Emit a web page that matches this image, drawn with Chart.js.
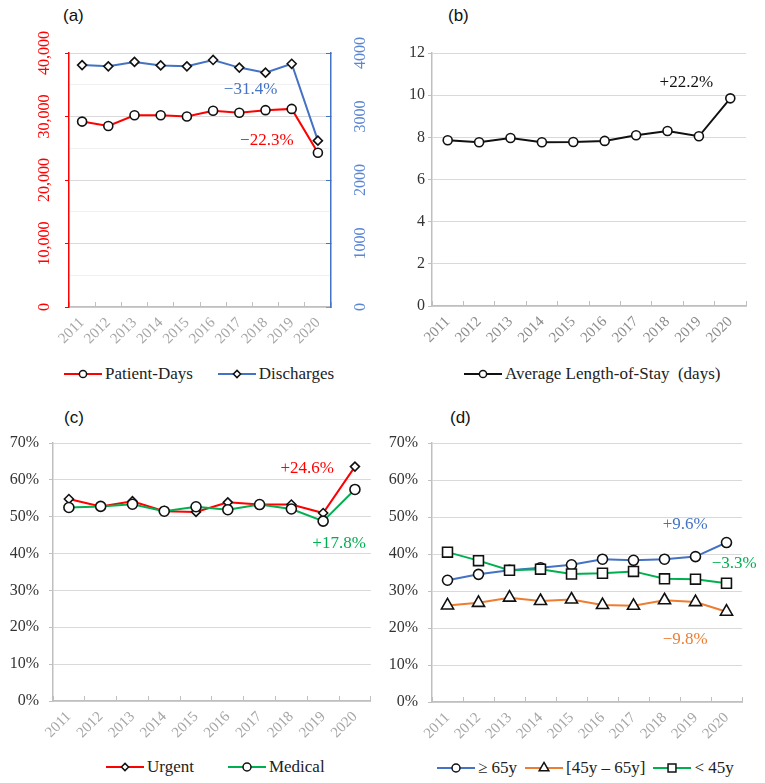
<!DOCTYPE html>
<html>
<head>
<meta charset="utf-8">
<script src="https://cdn.jsdelivr.net/npm/chart.js@4.4.1/dist/chart.umd.min.js"></script>
<style>
  body { margin: 0; width: 765px; height: 783px; background: #fff; position: relative; overflow: hidden; }
  .panel { position: absolute; }
  .tag { position: absolute; font: 17px "Liberation Sans", Arial, sans-serif; color: #111; }
  .legend { position: absolute; display: flex; align-items: center; font: 17px "Liberation Serif", "Times New Roman", serif; color: #222; white-space: pre; }
  .legend .item { display: flex; align-items: center; }
  .legend canvas { margin-right: 3px; }
</style>
</head>
<body>
<div class="tag" style="left:63px;top:6px">(a)</div>
<div class="tag" style="left:448px;top:6px">(b)</div>
<div class="tag" style="left:64px;top:408px">(c)</div>
<div class="tag" style="left:450px;top:408px">(d)</div>

<div class="panel" style="left:0;top:0"><canvas id="chartA" width="380" height="360"></canvas></div>
<div class="panel" style="left:380px;top:0"><canvas id="chartB" width="385" height="360"></canvas></div>
<div class="panel" style="left:0;top:390px"><canvas id="chartC" width="380" height="360"></canvas></div>
<div class="panel" style="left:380px;top:390px"><canvas id="chartD" width="385" height="360"></canvas></div>

<div class="legend" id="legendA" style="left:64px;top:364px"></div>
<div class="legend" id="legendB" style="left:464px;top:364px"></div>
<div class="legend" id="legendC" style="left:106px;top:757px"></div>
<div class="legend" id="legendD" style="left:437px;top:758px"></div>

<script>
// ---------- data ----------
const years = ['2011', '2012', '2013', '2014', '2015', '2016', '2017', '2018', '2019', '2020'];

const patientDays = [29200, 28500, 30200, 30200, 30000, 30900, 30600, 31000, 31200, 24300];
const discharges = [3810, 3790, 3860, 3805, 3790, 3890, 3770, 3690, 3830, 2620];

const avgStay = [7.86, 7.77, 7.97, 7.77, 7.78, 7.83, 8.1, 8.3, 8.05, 9.85];

const urgentPct = [54.8, 52.8, 54.2, 51.5, 51.3, 53.9, 53.3, 53.3, 51.0, 63.6];
const medicalPct = [52.5, 52.8, 53.4, 51.5, 52.7, 51.9, 53.3, 52.1, 48.8, 57.4];

const age65plus = [32.9, 34.5, 35.6, 36.3, 37.1, 38.6, 38.3, 38.6, 39.3, 43.1];
const age45to65 = [26.1, 26.8, 28.2, 27.3, 27.7, 26.2, 26.0, 27.5, 27.0, 24.4];
const ageUnder45 = [40.5, 38.2, 35.6, 35.9, 34.6, 34.8, 35.3, 33.3, 33.2, 32.1];

// tick ranges
const daysTicks = [0, 10000, 20000, 30000, 40000];
const dischargeTicks = [0, 1000, 2000, 3000, 4000];
const stayTicks = [0, 2, 4, 6, 8, 10, 12];
const pctTicks = [0, 10, 20, 30, 40, 50, 60, 70];

// ---------- style ----------
const SERIF = '"Liberation Serif", "Times New Roman", serif';
const RED = '#ff0000';
const BLUE = '#4472c4';
const GREEN = '#00b050';
const ORANGE = '#ed7d31';
const BLACK = '#111111';
const GRID = '#d9d9d9';
const AXIS = '#bfbfbf';

function series(label, data, color, style, radius, extra) {
  return Object.assign({
    label,
    data,
    borderColor: color,
    backgroundColor: color,
    borderWidth: 2,
    pointStyle: style,
    pointRadius: radius,
    pointBackgroundColor: '#fff',
    pointBorderColor: '#111',
    pointBorderWidth: 1.6,
    tension: 0,
  }, extra || {});
}

function xAxis(tickColor, height) {
  return {
    type: 'category',
    offset: true,
    grid: { display: true, offset: true, drawOnChartArea: false, drawTicks: true, tickLength: -5, color: AXIS },
    border: { color: AXIS, width: 1.5 },
    ticks: { color: tickColor, font: { family: SERIF, size: 15 }, minRotation: 45, maxRotation: 45, padding: 12, autoSkip: false },
    afterFit: (s) => { s.height = height; },
  };
}

function yAxis(ticks, fmt, width, pad) {
  return {
    min: ticks[0],
    max: ticks[ticks.length - 1],
    ticks: { stepSize: ticks[1] - ticks[0], callback: fmt, color: '#333', font: { family: SERIF, size: 16 }, padding: pad },
    grid: { color: GRID, tickColor: AXIS, tickLength: 4, lineWidth: 1 },
    border: { color: AXIS, width: 1.5 },
    afterFit: (s) => { s.width = width; },
  };
}

// text notes placed in data units
const notesPlugin = {
  id: 'notes',
  afterDatasetsDraw(chart, args, opts) {
    const ctx = chart.ctx;
    (opts.items || []).forEach((n) => {
      const x = chart.scales.x.getPixelForValue(n.at);
      const y = chart.scales[n.axis || 'y'].getPixelForValue(n.value);
      ctx.save();
      ctx.font = '17px ' + SERIF;
      ctx.fillStyle = n.color;
      ctx.textAlign = 'center';
      ctx.textBaseline = 'middle';
      ctx.fillText(n.text, x, y);
      ctx.restore();
    });
  },
};

// vertical (rotated) tick labels for panel (a)
const sideLabelsPlugin = {
  id: 'sideLabels',
  afterDraw(chart, args, opts) {
    const ctx = chart.ctx;
    (opts.axes || []).forEach((a) => {
      const scale = chart.scales[a.id];
      a.values.forEach((v) => {
        const y = scale.getPixelForValue(v);
        const isLeft = scale.position === 'left';
        ctx.save();
        ctx.translate(isLeft ? scale.right - a.gap : scale.left + a.gap, y);
        ctx.rotate(-Math.PI / 2);
        ctx.font = '16px ' + SERIF;
        ctx.fillStyle = a.color;
        ctx.textAlign = 'center';
        ctx.textBaseline = isLeft ? 'bottom' : 'top';
        ctx.fillText(a.format(v), 0, 0);
        ctx.restore();
      });
    });
  },
};

Chart.register(notesPlugin, sideLabelsPlugin);

const baseOptions = {
  responsive: false,
  animation: false,
  events: [],
};

// ---------- (a) ----------
const chartA = new Chart(document.getElementById('chartA'), {
  type: 'line',
  data: {
    labels: years,
    datasets: [
      series('Patient-Days', patientDays, RED, 'circle', 4.5, { yAxisID: 'yL' }),
      series('Discharges', discharges, BLUE, 'rectRot', 4.5, { yAxisID: 'yR' }),
    ],
  },
  options: Object.assign({}, baseOptions, {
    layout: { padding: { top: 53, left: 0, right: 0, bottom: 0 } },
    scales: {
      x: xAxis('#a6a6a6', 53),
      yL: {
        position: 'left',
        min: 0,
        max: 40000,
        ticks: { display: false, stepSize: 5000 },
        grid: {
          color: (c) => (c.tick && c.tick.value % 10000 === 0 ? GRID : '#f0f0f0'),
          tickColor: (c) => (c.tick && c.tick.value % 10000 === 0 ? RED : 'rgba(0,0,0,0)'),
          tickLength: 4,
        },
        border: { color: RED, width: 1.5 },
        afterFit: (s) => { s.width = 69; },
      },
      yR: {
        position: 'right',
        min: 0,
        max: 4000,
        ticks: { display: false, stepSize: 1000 },
        grid: { drawOnChartArea: false, color: BLUE, tickLength: -5 },
        border: { color: BLUE, width: 1.5 },
        afterFit: (s) => { s.width = 49; },
      },
    },
    plugins: {
      legend: { display: false },
      tooltip: { enabled: false },
      notes: {
        items: [
          { text: '\u221231.4%', color: BLUE, at: 6.43, value: 3420, axis: 'yR' },
          { text: '\u221222.3%', color: RED, at: 7.05, value: 26200, axis: 'yL' },
        ],
      },
      sideLabels: {
        axes: [
          { id: 'yL', values: daysTicks, color: RED, gap: 16, format: (v) => v.toLocaleString('en-US') },
          { id: 'yR', values: dischargeTicks, color: '#5b86d3', gap: 22, format: (v) => String(v) },
        ],
      },
    },
  }),
});

// ---------- (b) ----------
const chartB = new Chart(document.getElementById('chartB'), {
  type: 'line',
  data: {
    labels: years,
    datasets: [series('Average Length-of-Stay  (days)', avgStay, BLACK, 'circle', 4.5)],
  },
  options: Object.assign({}, baseOptions, {
    layout: { padding: { top: 53, left: 0, right: 19, bottom: 0 } },
    scales: {
      x: xAxis('#8c8c8c', 54),
      y: yAxis(stayTicks, (v) => v, 52, 3),
    },
    plugins: {
      legend: { display: false },
      tooltip: { enabled: false },
      notes: { items: [{ text: '+22.2%', color: BLACK, at: 7.6, value: 10.6 }] },
    },
  }),
});

// ---------- (c) ----------
const chartC = new Chart(document.getElementById('chartC'), {
  type: 'line',
  data: {
    labels: years,
    datasets: [
      series('Urgent', urgentPct, RED, 'rectRot', 4.5, { order: 2 }),
      series('Medical', medicalPct, GREEN, 'circle', 5, { order: 1 }),
    ],
  },
  options: Object.assign({}, baseOptions, {
    layout: { padding: { top: 53, left: 0, right: 0, bottom: 0 } },
    scales: {
      x: xAxis('#a6a6a6', 49),
      y: yAxis(pctTicks, (v) => v + '%', 53, 10),
    },
    plugins: {
      legend: { display: false },
      tooltip: { enabled: false },
      notes: {
        items: [
          { text: '+24.6%', color: RED, at: 7.5, value: 63.1 },
          { text: '+17.8%', color: GREEN, at: 8.5, value: 42.8 },
        ],
      },
    },
  }),
});

// ---------- (d) ----------
const chartD = new Chart(document.getElementById('chartD'), {
  type: 'line',
  data: {
    labels: years,
    datasets: [
      series('\u2265 65y', age65plus, BLUE, 'circle', 5, { order: 3 }),
      series('[45y \u2013 65y]', age45to65, ORANGE, 'triangle', 7, { order: 2 }),
      series('< 45y', ageUnder45, GREEN, 'rect', 7, { order: 1 }),
    ],
  },
  options: Object.assign({}, baseOptions, {
    layout: { padding: { top: 53, left: 0, right: 23, bottom: 0 } },
    scales: {
      x: xAxis('#a6a6a6', 48),
      y: yAxis(pctTicks, (v) => v + '%', 52, 10),
    },
    plugins: {
      legend: { display: false },
      tooltip: { enabled: false },
      notes: {
        items: [
          { text: '+9.6%', color: BLUE, at: 7.67, value: 48.0 },
          { text: '\u22123.3%', color: GREEN, at: 9.25, value: 37.5 },
          { text: '\u22129.8%', color: ORANGE, at: 7.67, value: 16.9 },
        ],
      },
    },
  }),
});

// ---------- legends (line + marker, drawn like the series) ----------
function drawMarker(ctx, style, x, y, r) {
  ctx.beginPath();
  if (style === 'circle') {
    ctx.arc(x, y, r, 0, Math.PI * 2);
  } else if (style === 'rectRot') {
    ctx.moveTo(x, y - r); ctx.lineTo(x + r, y); ctx.lineTo(x, y + r); ctx.lineTo(x - r, y);
    ctx.closePath();
  } else if (style === 'rect') {
    const s = r * Math.SQRT1_2;
    ctx.rect(x - s, y - s, 2 * s, 2 * s);
  } else if (style === 'triangle') {
    for (let k = 0; k < 3; k++) {
      const a = k * 2 * Math.PI / 3;
      const px = x + Math.sin(a) * r, py = y - Math.cos(a) * r;
      if (k === 0) ctx.moveTo(px, py); else ctx.lineTo(px, py);
    }
    ctx.closePath();
  }
  ctx.fillStyle = '#fff';
  ctx.fill();
  ctx.lineWidth = 1.5;
  ctx.strokeStyle = '#111';
  ctx.stroke();
}

function buildLegend(id, chart, gap) {
  const box = document.getElementById(id);
  box.style.gap = gap + 'px';
  chart.data.datasets.forEach((ds) => {
    const item = document.createElement('div');
    item.className = 'item';
    const c = document.createElement('canvas');
    c.width = 38;
    c.height = 18;
    const ctx = c.getContext('2d');
    ctx.strokeStyle = ds.borderColor;
    ctx.lineWidth = 2;
    ctx.beginPath();
    ctx.moveTo(0, 9);
    ctx.lineTo(38, 9);
    ctx.stroke();
    drawMarker(ctx, ds.pointStyle, 19, 9, ds.pointRadius * 0.8);
    const t = document.createElement('span');
    t.textContent = ds.label;
    item.appendChild(c);
    item.appendChild(t);
    box.appendChild(item);
  });
}

buildLegend('legendA', chartA, 25);
buildLegend('legendB', chartB, 0);
buildLegend('legendC', chartC, 34);
buildLegend('legendD', chartD, 8);
</script>
</body>
</html>
